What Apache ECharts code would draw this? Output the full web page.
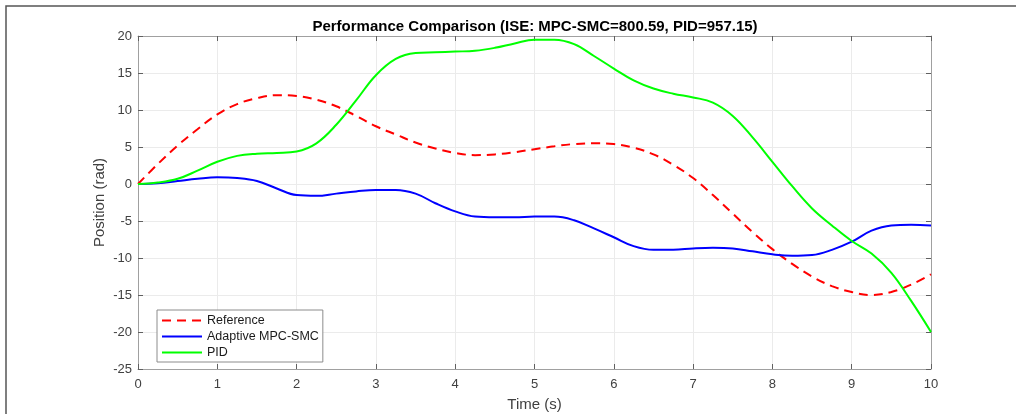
<!DOCTYPE html>
<html>
<head>
<meta charset="utf-8">
<script src="https://cdn.jsdelivr.net/npm/echarts@6/dist/echarts.min.js"></script>
<style>
  html, body { margin: 0; padding: 0; background: #fff; }
  #perf-echarts { width: 1016px; height: 414px; }
</style>
</head>
<body>
<div id="perf-echarts"></div>
<script>
// time samples (s), 0.25 s step
var timeData = [0, 0.25, 0.5, 0.75, 1, 1.25, 1.5, 1.75, 2, 2.25, 2.5, 2.75, 3, 3.25, 3.5, 3.75, 4, 4.25, 4.5, 4.75,
  5, 5.25, 5.5, 5.75, 6, 6.25, 6.5, 6.75, 7, 7.25, 7.5, 7.75, 8, 8.25, 8.5, 8.75, 9, 9.25, 9.5, 9.75, 10];
// 参考轨迹
var refData = [0, 2.7, 5.2, 7.4, 9.4, 10.8, 11.6, 12.0, 11.9, 11.4, 10.5, 9.2, 7.8, 6.7, 5.6, 4.8, 4.2, 3.9, 4.0, 4.3,
  4.7, 5.1, 5.4, 5.5, 5.4, 4.9, 4.0, 2.6, 0.8, -1.5, -4.0, -6.5, -8.8, -10.8, -12.5, -13.8, -14.6, -15.0, -14.6, -13.6, -12.2];
// Adaptive MPC-SMC
var mpcData = [0, 0.1, 0.4, 0.7, 0.9, 0.8, 0.4, -0.6, -1.5, -1.6, -1.3, -1.0, -0.8, -0.8, -1.3, -2.6, -3.7, -4.4, -4.5, -4.5,
  -4.4, -4.4, -4.9, -6.0, -7.2, -8.4, -8.9, -8.9, -8.7, -8.6, -8.7, -9.1, -9.5, -9.7, -9.6, -8.9, -7.8, -6.3, -5.6, -5.5, -5.6];
// PID
var pidData = [0, 0.2, 0.7, 1.8, 3.0, 3.8, 4.1, 4.2, 4.4, 5.5, 8.0, 11.3, 14.7, 16.9, 17.7, 17.8, 17.9, 18.0, 18.4, 19.0,
  19.5, 19.5, 18.9, 17.3, 15.6, 14.0, 12.9, 12.2, 11.7, 11.0, 9.2, 6.3, 3.0, -0.3, -3.3, -5.6, -7.7, -9.4, -12.0, -15.8, -20];

var xTicks = { min: 0, max: 10, interval: 1 };
var yTicks = { min: -25, max: 20, interval: 5 };

function pairs(arr) {
  return arr.map(function (v, i) { return [timeData[i], v]; });
}

var axisColor = "#a0a0a0";
var labelColor = "#404040";
var gridColor = "#ebebeb";
var fontFamily = "Liberation Sans, Arial, sans-serif";

function mainAxis(t, pos) {
  return {
    type: "value",
    position: pos,
    min: t.min,
    max: t.max,
    interval: t.interval,
    axisLine: { show: true, onZero: false, lineStyle: { color: axisColor, width: 1 } },
    axisTick: { show: true, inside: true, length: 5, lineStyle: { color: "#606060" } },
    axisLabel: { color: labelColor, fontSize: 13, fontFamily: fontFamily, margin: pos === "left" ? 6 : 9 },
    splitLine: { show: true, lineStyle: { color: gridColor, width: 1 } }
  };
}
// 上/右边框轴, 只画刻度
function boxAxis(t, pos) {
  return {
    type: "value",
    position: pos,
    min: t.min,
    max: t.max,
    interval: t.interval,
    axisLine: { show: true, onZero: false, lineStyle: { color: axisColor, width: 1 } },
    axisTick: { show: true, inside: true, length: 5, lineStyle: { color: "#606060" } },
    axisLabel: { show: false },
    splitLine: { show: false }
  };
}

var xMain = mainAxis(xTicks, "bottom");
xMain.name = "Time (s)";
xMain.nameLocation = "middle";
xMain.nameGap = 28;
xMain.nameMoveOverlap = false;
xMain.nameTextStyle = { color: labelColor, fontSize: 15, fontFamily: fontFamily };

var yMain = mainAxis(yTicks, "left");
yMain.name = "Position (rad)";
yMain.nameLocation = "middle";
yMain.nameGap = 31;
yMain.nameMoveOverlap = false;
yMain.nameTextStyle = { color: labelColor, fontSize: 15, fontFamily: fontFamily };

function lineSeries(name, arr, color, dashed) {
  return {
    name: name,
    type: "line",
    xAxisIndex: 0,
    yAxisIndex: 0,
    smooth: 0.4,
    symbol: "none",
    showSymbol: false,
    lineStyle: { color: color, width: 2, type: dashed ? [9, 6] : "solid" },
    itemStyle: { color: color },
    data: pairs(arr),
    z: 3
  };
}

var option = {
  animation: false,
  backgroundColor: "#fff",
  title: {
    text: "Performance Comparison (ISE: MPC-SMC=800.59, PID=957.15)",
    left: 530,
    top: 14,
    textAlign: "center",
    textStyle: { color: "#000", fontSize: 15, fontWeight: "bold", fontFamily: fontFamily }
  },
  graphic: [
    {
      type: "rect",
      shape: { x: 6, y: 6, width: 1100, height: 500 },
      style: { fill: "none", stroke: "#555", lineWidth: 1.5 },
      silent: true
    }
  ],
  grid: { left: 138, top: 36, width: 793, height: 333, containLabel: false, outerBoundsMode: "none" },
  legend: {
    orient: "vertical",
    left: 157,
    top: 310,
    padding: [4, 4, 3, 4],
    itemGap: 3,
    itemWidth: 40,
    itemHeight: 14,
    backgroundColor: "#fff",
    borderColor: "#8c8c8c",
    borderWidth: 1,
    itemStyle: { color: "rgba(0,0,0,0)", borderWidth: 0, opacity: 0 },
    textStyle: { color: "#1a1a1a", fontSize: 12.5, fontFamily: fontFamily },
    data: ["Reference", "Adaptive MPC-SMC", "PID"]
  },
  xAxis: [xMain, boxAxis(xTicks, "top")],
  yAxis: [yMain, boxAxis(yTicks, "right")],
  series: [
    lineSeries("Reference", refData, "#ff0000", true),
    lineSeries("Adaptive MPC-SMC", mpcData, "#0000ff", false),
    lineSeries("PID", pidData, "#00ff00", false)
  ]
};

var myChart = echarts.init(document.getElementById("perf-echarts"));
myChart.setOption(option);
</script>
</body>
</html>
